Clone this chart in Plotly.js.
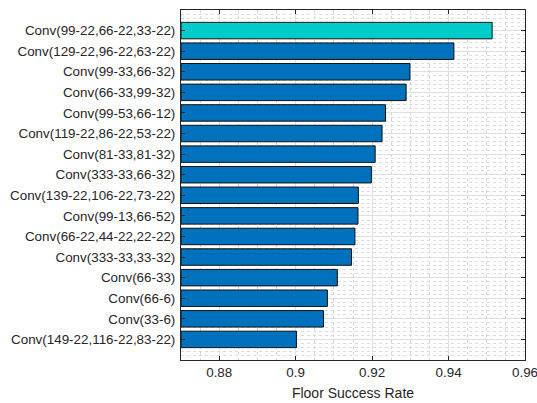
<!DOCTYPE html>
<html><head><meta charset="utf-8">
<script src="https://cdn.plot.ly/plotly-3.0.1.min.js"></script>
<style>html,body{margin:0;padding:0;background:#fff}#chart{width:537px;height:403px}</style>
</head><body><div id="chart"></div>
<script>
const categories = [
  "Conv(99-22,66-22,33-22)",
  "Conv(129-22,96-22,63-22)",
  "Conv(99-33,66-32)",
  "Conv(66-33,99-32)",
  "Conv(99-53,66-12)",
  "Conv(119-22,86-22,53-22)",
  "Conv(81-33,81-32)",
  "Conv(333-33,66-32)",
  "Conv(139-22,106-22,73-22)",
  "Conv(99-13,66-52)",
  "Conv(66-22,44-22,22-22)",
  "Conv(333-33,33-32)",
  "Conv(66-33)",
  "Conv(66-6)",
  "Conv(33-6)",
  "Conv(149-22,116-22,83-22)"
];
const successRate = [0.9514, 0.9414, 0.9299, 0.9289, 0.9235, 0.9226, 0.9208, 0.9198,
  0.9164, 0.9163, 0.9155, 0.9146, 0.9109, 0.9083, 0.9073, 0.9002];
const xTickVals = [0.88, 0.9, 0.92, 0.94, 0.96];
const xTickText = ["0.88", "0.9", "0.92", "0.94", "0.96"];

const positions = categories.map((c, i) => i);
const colors = categories.map((c, i) => i === 0 ? "#00CCCC" : "#0072BD");
const base = 0.87;

const trace = {
  type: "bar",
  orientation: "h",
  y: positions,
  x: successRate.map(v => v - base),
  base: base,
  width: 0.8,
  marker: {color: colors, line: {color: "#111111", width: 1}},
  hoverinfo: "skip"
};

const axisCommon = {
  showline: true, linecolor: "#262626", linewidth: 1, mirror: "allticks",
  ticks: "inside", ticklen: 4, tickcolor: "#262626", tickwidth: 1,
  showgrid: true, gridcolor: "#e0e0e0", gridwidth: 1, zeroline: false,
  tickfont: {family: "Liberation Sans, Arial, sans-serif", size: 13.4, color: "#262626"}
};

const layout = {
  width: 537, height: 403,
  margin: {l: 181, r: 12, t: 10, b: 43},
  paper_bgcolor: "#ffffff", plot_bgcolor: "#ffffff",
  showlegend: false,
  xaxis: Object.assign({}, axisCommon, {
    range: [0.87, 0.9600001],
    tickmode: "array", tickvals: xTickVals, ticktext: xTickText,
    ticklabeloverflow: "allow",
    minor: {dtick: 0.005, tick0: 0.87, showgrid: true, gridcolor: "#d6d6d6", griddash: "dot", gridwidth: 1, ticks: ""},
    title: {text: "Floor Success Rate", standoff: 9,
      font: {family: "Liberation Sans, Arial, sans-serif", size: 14, color: "#262626"}}
  }),
  yaxis: Object.assign({}, axisCommon, {
    range: [16, -1],
    tickmode: "array", tickvals: positions, ticktext: categories,
    ticklabelstandoff: 2,
    minor: {dtick: 0.2, tick0: 0, showgrid: true, gridcolor: "#dcdcdc", griddash: "dot", gridwidth: 1, ticks: ""}
  }),
  bargap: 0.2
};

Plotly.newPlot("chart", [trace], layout, {displayModeBar: false, staticPlot: true});
</script>
</body></html>
